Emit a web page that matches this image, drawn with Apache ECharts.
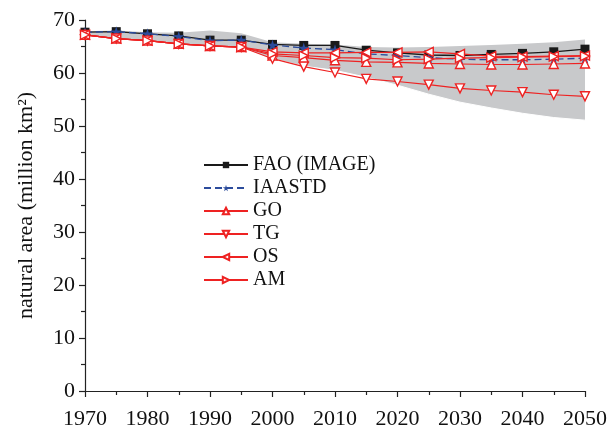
<!DOCTYPE html>
<html>
<head>
<meta charset="utf-8">
<script src="https://cdn.jsdelivr.net/npm/echarts@6/dist/echarts.min.js"></script>
<style>html,body{margin:0;padding:0;background:#fff}#c{width:611px;height:432px}</style>
</head>
<body>
<div id="c"></div>
<script>
const years = [1970,1975,1980,1985,1990,1995,2000,2005,2010,2015,2020,2025,2030,2035,2040,2045,2050];
const FAO    = [67.7,67.8,67.4,67.0,66.2,66.2,65.4,65.2,65.2,64.3,63.8,63.4,63.3,63.5,63.7,64.0,64.5];
const IAASTD = [67.7,67.8,67.4,66.9,66.1,66.2,65.3,64.7,64.4,63.6,63.3,62.9,62.6,62.5,62.5,62.6,62.8];
const GO     = [67.2,66.5,66.1,65.5,65.1,64.9,63.3,62.9,62.4,62.1,62.0,61.8,61.7,61.6,61.6,61.7,61.8];
const TG     = [67.2,66.5,66.1,65.5,65.1,64.9,62.7,61.2,60.1,58.9,58.4,57.8,57.1,56.7,56.4,55.9,55.6];
const OS     = [67.2,66.5,66.1,65.5,65.1,64.9,64.0,63.8,63.8,63.9,63.9,64.0,63.6,63.2,63.1,63.2,63.3];
const AM     = [67.2,66.5,66.1,65.5,65.1,64.9,63.6,63.3,62.9,62.8,62.5,62.6,62.8,62.9,63.0,63.1,63.2];
const bandUpper = [67.9,68.0,67.7,67.6,68.0,67.5,65.8,65.5,65.4,64.9,64.8,64.9,65.1,65.3,65.5,65.8,66.3];
const bandLower = [67.2,66.5,66.1,65.5,65.1,64.9,62.7,61.3,60.5,59.2,57.7,56.0,54.5,53.4,52.4,51.6,51.1];
const xTicks = [1970,1980,1990,2000,2010,2020,2030,2040,2050];
const yTicks = [0,10,20,30,40,50,60,70];

const pairs = arr => years.map((y,i)=>[y, arr[i]]);
const FONT = '"Liberation Serif","Times New Roman",serif';
const RED = '#ee2222';
const triUp = 'path://M5,0 L10,9 L0,9 Z';
const triDown = 'path://M0,0 L10,0 L5,9 Z';
const triLeft = 'path://M0,5 L9,0 L9,10 Z';
const triRight = 'path://M0,0 L9,5 L0,10 Z';
const star = 'path://M50,0 L61,35 L98,35 L68,57 L79,91 L50,70 L21,91 L32,57 L2,35 L39,35 Z';

function redSeries(name, data, sym){
  return {
    name, type:'line', data: pairs(data), symbol: sym, symbolSize: 9,
    lineStyle:{color:RED, width:1.2},
    itemStyle:{color:'#fff', borderColor:RED, borderWidth:1.4},
    z: 5
  };
}

const chart = echarts.init(document.getElementById('c'), null, {renderer:'canvas'});
chart.setOption({
  animation:false,
  backgroundColor:'#fff',
  grid:{left:85, right:26, top:20, bottom:41, containLabel:false},
  legend:{
    data:['FAO (IMAGE)','IAASTD','GO','TG','OS','AM'],
    orient:'vertical', left:198, top:150, itemWidth:44, itemHeight:8, itemGap:3,
    textStyle:{fontFamily:FONT, fontSize:20, color:'#111', lineHeight:20}
  },
  xAxis:{
    type:'value', min:1970, max:2050, interval:10,
    axisLine:{lineStyle:{color:'#222', width:1.2}},
    axisTick:{show:true, length:6, lineStyle:{color:'#222', width:1.2}},
    minorTick:{show:true, splitNumber:2, length:4, lineStyle:{color:'#222', width:1.2}},
    splitLine:{show:false},
    axisLabel:{fontFamily:FONT, fontSize:22, color:'#111', margin:17,
      formatter: v => xTicks.includes(v) ? String(v) : ''}
  },
  yAxis:{
    type:'value', min:0, max:70, interval:10,
    name:'natural area (million km²)', nameLocation:'middle', nameGap:48,
    nameTextStyle:{fontFamily:FONT, fontSize:22, color:'#111'},
    axisLine:{show:true, lineStyle:{color:'#222', width:1.2}},
    axisTick:{show:true, length:6, lineStyle:{color:'#222', width:1.2}},
    minorTick:{show:true, splitNumber:2, length:4, lineStyle:{color:'#222', width:1.2}},
    splitLine:{show:false},
    axisLabel:{fontFamily:FONT, fontSize:22, color:'#111', margin:10,
      formatter: v => yTicks.includes(v) ? String(v) : ''}
  },
  series:[
    {name:'band', type:'custom', silent:true, z:1,
     data:[[2010, 60]],
     renderItem:(params, api) => {
       const top = years.map((y,i)=>api.coord([y, bandUpper[i]]));
       const bot = years.map((y,i)=>api.coord([y, bandLower[i]]));
       const pts = top.concat(bot.slice().reverse());
       return {type:'group', children:[
         {type:'polygon', shape:{points:pts}, style:{fill:'#c8c9cb', stroke:null}},
         {type:'polyline', shape:{points:bot.slice(6)}, style:{stroke:'#fff', lineWidth:1, fill:null}}
       ]};
     }},
    {name:'FAO (IMAGE)', type:'line', data: pairs(FAO), symbol:'rect', symbolSize:9,
     lineStyle:{color:'#1a1a1a', width:1.3}, itemStyle:{color:'#1a1a1a'}, z:3},
    {name:'IAASTD', type:'line', data: pairs(IAASTD), symbol:star, symbolSize:11,
     lineStyle:{color:'#2c4c9c', width:1.3, type:[7,4]}, itemStyle:{color:'#2c4c9c'}, z:4},
    redSeries('GO', GO, triUp),
    redSeries('TG', TG, triDown),
    redSeries('OS', OS, triLeft),
    redSeries('AM', AM, triRight)
  ]
});
</script>
</body>
</html>
